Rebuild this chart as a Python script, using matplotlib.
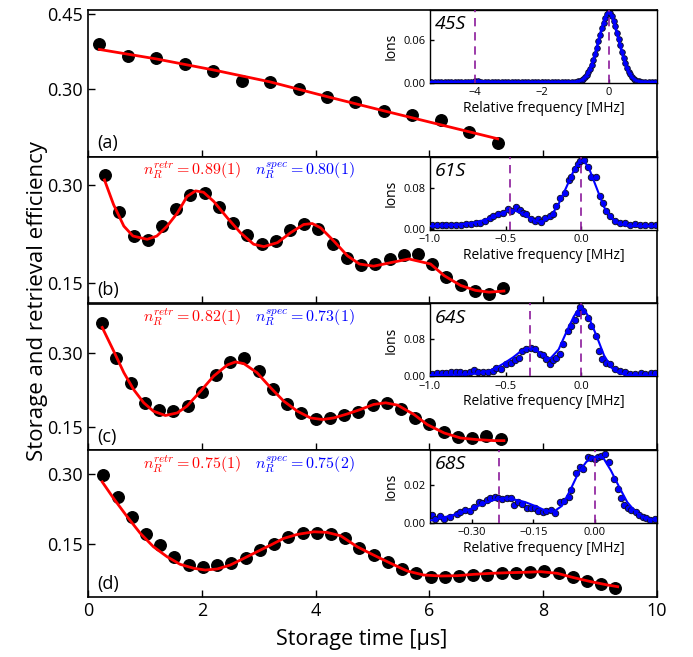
import numpy as np
import matplotlib
matplotlib.use("Agg")
import matplotlib.pyplot as plt

plt.rcParams['font.family'] = ['Open Sans', 'DejaVu Sans']
plt.rcParams['mathtext.fontset'] = 'cm'

# ---------------- main panels: data ----------------
a_t = [0.2 + 0.5 * i for i in range(15)]
a_eff = [0.389, 0.366, 0.3625, 0.349, 0.336, 0.3155, 0.314, 0.300, 0.283,
         0.274, 0.255, 0.248, 0.238, 0.213, 0.191]
a_fit_t = [0.2, 1.2, 2.2, 3.2, 4.2, 5.2, 6.2, 7.2]
a_fit = [0.379, 0.360, 0.338, 0.314, 0.2845, 0.256, 0.228, 0.200]

b_t = [0.3 + 0.25 * i for i in range(29)]
b_eff = [0.315, 0.259, 0.222, 0.216, 0.237, 0.264, 0.284, 0.287, 0.266, 0.242,
         0.223, 0.210, 0.214, 0.231, 0.241, 0.232, 0.210, 0.189, 0.178, 0.179,
         0.187, 0.193, 0.195, 0.179, 0.159, 0.147, 0.138, 0.134, 0.143]
b_fit_t = [0.29, 0.45, 0.63, 0.79, 1.04, 1.21, 1.39, 1.57, 1.74, 1.89, 2.03,
           2.21, 2.45, 2.68, 2.91, 3.09, 3.33, 3.56, 3.79, 3.94, 4.09, 4.32,
           4.56, 4.77, 5.02, 5.30, 5.64, 6.02, 6.26, 6.55, 6.81, 7.05, 7.31]
b_fit = [0.3075, 0.2698, 0.2371, 0.222, 0.217, 0.222, 0.2371, 0.2571, 0.2823,
         0.2909, 0.2888, 0.2748, 0.2496, 0.227, 0.2095, 0.2058, 0.2119, 0.227,
         0.2396, 0.2411, 0.2345, 0.2144, 0.1918, 0.1793, 0.176, 0.181, 0.187,
         0.1793, 0.1615, 0.1465, 0.139, 0.1363, 0.138]

c_t = [0.25 + 0.25 * i for i in range(29)]
c_eff = [0.359, 0.290, 0.238, 0.199, 0.185, 0.183, 0.193, 0.221, 0.255, 0.281,
         0.289, 0.263, 0.226, 0.197, 0.178, 0.167, 0.168, 0.175, 0.180, 0.195,
         0.199, 0.187, 0.168, 0.155, 0.140, 0.129, 0.128, 0.131, 0.125]
c_fit_t = [0.25, 0.45, 0.63, 0.80, 0.98, 1.15, 1.36, 1.57, 1.74, 1.98, 2.21,
           2.45, 2.59, 2.74, 2.97, 3.21, 3.44, 3.68, 3.91, 4.12, 4.32, 4.56,
           4.79, 5.02, 5.23, 5.44, 5.73, 5.96, 6.26, 6.55, 6.84, 7.14, 7.31]
c_fit = [0.3507, 0.3034, 0.2595, 0.2258, 0.1987, 0.1818, 0.1731, 0.1784,
         0.192, 0.2224, 0.2528, 0.2751, 0.2811, 0.2777, 0.2595, 0.2291, 0.2021,
         0.1818, 0.1682, 0.165, 0.1682, 0.1764, 0.1853, 0.1954, 0.1987, 0.194,
         0.1751, 0.1549, 0.1378, 0.1277, 0.1244, 0.1224, 0.1224]

d_t = [0.27 + 0.25 * i for i in range(37)]
d_eff = [0.2985, 0.2507, 0.2079, 0.1714, 0.1485, 0.1234, 0.1056, 0.1020,
         0.1056, 0.1106, 0.1213, 0.1378, 0.1506, 0.1663, 0.1736, 0.1749, 0.1714,
         0.1629, 0.1427, 0.1271, 0.1114, 0.0964, 0.0878, 0.0806, 0.0806, 0.0821,
         0.0842, 0.0842, 0.0878, 0.0878, 0.0900, 0.0928, 0.0878, 0.0806, 0.0714,
         0.0649, 0.0570]
d_fit_t = [0.25, 0.45, 0.69, 0.92, 1.15, 1.39, 1.62, 1.86, 2.06, 2.27, 2.50,
           2.74, 2.97, 3.21, 3.44, 3.68, 3.97, 4.20, 4.44, 4.73, 5.02, 5.32,
           5.61, 5.90, 6.20, 6.49, 6.78, 7.08, 7.37, 7.66, 7.96, 8.25, 8.54,
           8.84, 9.13, 9.31]
d_fit = [0.2841, 0.2486, 0.2091, 0.1736, 0.1449, 0.1234, 0.1071, 0.0986,
         0.0949, 0.0971, 0.1056, 0.12, 0.1341, 0.1485, 0.1628, 0.1714, 0.177,
         0.1757, 0.1684, 0.1449, 0.127, 0.1093, 0.0928, 0.0842, 0.0821, 0.0827,
         0.0857, 0.0878, 0.0891, 0.09, 0.0913, 0.0878, 0.0784, 0.0699, 0.0628,
         0.0591]

panel_letters = ['(a)', '(b)', '(c)', '(d)']
panel_ylims = [(0.164, 0.458), (0.119, 0.343), (0.103, 0.399), (0.037, 0.352)]
panel_yticks = [[0.30, 0.45], [0.15, 0.30], [0.15, 0.30], [0.15, 0.30]]
n_retr = [None, r'$n_R^{retr}=0.89(1)$', r'$n_R^{retr}=0.82(1)$', r'$n_R^{retr}=0.75(1)$']
n_spec = [None, r'$n_R^{spec}=0.80(1)$', r'$n_R^{spec}=0.73(1)$', r'$n_R^{spec}=0.75(2)$']

# ---------------- inset spectra ----------------
ia_f = ([-5.3 + 0.1 * i for i in range(44)] +
        [-0.95 + 0.05 * i for i in range(39)] +
        [1.0 + 0.1 * i for i in range(5)])
ia_ions = ([0.0010, 0.0012, 0.0009, 0.0011, 0.0010, 0.0012, 0.0013, 0.0011,
            0.0012, 0.0014, 0.0016, 0.0018, 0.0020, 0.0022, 0.0021, 0.0019,
            0.0016, 0.0014, 0.0013, 0.0012, 0.0011, 0.0012, 0.0010, 0.0011,
            0.0012, 0.0010, 0.0009, 0.0011, 0.0010, 0.0012, 0.0011, 0.0010,
            0.0011, 0.0012, 0.0010, 0.0011, 0.0012, 0.0011, 0.0012, 0.0013,
            0.0012, 0.0014, 0.0013, 0.0015] +
           [0.0020, 0.0022, 0.0030, 0.0040, 0.0060, 0.0080, 0.0110, 0.0150,
            0.0200, 0.0260, 0.0330, 0.0410, 0.0500, 0.0590, 0.0680, 0.0770,
            0.0850, 0.0920, 0.0970, 0.1000, 0.0990, 0.0950, 0.0880, 0.0800,
            0.0710, 0.0620, 0.0530, 0.0440, 0.0350, 0.0280, 0.0210, 0.0160,
            0.0120, 0.0080, 0.0060, 0.0040, 0.0030, 0.0022, 0.0020] +
           [0.0015, 0.0013, 0.0012, 0.0011, 0.0010])

ib_f = [-0.990, -0.957, -0.924, -0.891, -0.858, -0.825, -0.792, -0.759, -0.726,
        -0.693, -0.671, -0.638, -0.605, -0.583, -0.550, -0.517, -0.484, -0.466,
        -0.435, -0.407, -0.385, -0.363, -0.330, -0.308, -0.286, -0.264, -0.242,
        -0.209, -0.187, -0.165, -0.143, -0.110, -0.084, -0.066, -0.044, -0.022,
        -0.011, 0.017, 0.044, 0.066, 0.099, 0.121, 0.143, 0.165, 0.187, 0.220,
        0.253, 0.286, 0.319, 0.352, 0.385, 0.418, 0.462, 0.495]
ib_ions = [0.0064, 0.0070, 0.0070, 0.0077, 0.0070, 0.0077, 0.0077, 0.0090,
           0.0096, 0.0102, 0.0115, 0.0147, 0.0211, 0.0256, 0.0276, 0.0307,
           0.0384, 0.0339, 0.0416, 0.0371, 0.0307, 0.0276, 0.0192, 0.0147,
           0.0179, 0.0128, 0.0211, 0.0256, 0.0276, 0.0435, 0.0595, 0.0691,
           0.0946, 0.1010, 0.1170, 0.1266, 0.1317, 0.1330, 0.1202, 0.1010,
           0.1010, 0.0627, 0.0499, 0.0339, 0.0243, 0.0147, 0.0102, 0.0115,
           0.0064, 0.0083, 0.0064, 0.0070, 0.0064, 0.0070]
ib_fit_f = [-1.0, -0.9, -0.8, -0.7, -0.65, -0.6, -0.55, -0.5, -0.45, -0.4,
            -0.35, -0.3, -0.27, -0.24, -0.2, -0.15, -0.1, -0.05, -0.02, 0.0,
            0.02, 0.05, 0.1, 0.15, 0.2, 0.25, 0.3, 0.4, 0.5]
ib_fit = [0.005, 0.006, 0.008, 0.012, 0.016, 0.021, 0.027, 0.033, 0.036, 0.031,
          0.022, 0.015, 0.013, 0.016, 0.025, 0.048, 0.080, 0.113, 0.128, 0.132,
          0.131, 0.118, 0.080, 0.042, 0.020, 0.010, 0.006, 0.005, 0.005]

ic_f = [-0.990, -0.957, -0.924, -0.891, -0.858, -0.825, -0.803, -0.770, -0.737,
        -0.708, -0.682, -0.649, -0.616, -0.583, -0.561, -0.528, -0.495, -0.462,
        -0.440, -0.414, -0.392, -0.363, -0.334, -0.308, -0.275, -0.253, -0.231,
        -0.209, -0.187, -0.165, -0.143, -0.121, -0.088, -0.066, -0.044, -0.022,
        -0.011, 0.011, 0.044, 0.066, 0.099, 0.114, 0.136, 0.165, 0.187, 0.220,
        0.253, 0.286, 0.319, 0.352, 0.391, 0.418, 0.462, 0.488]
ic_ions = [0.0051, 0.0058, 0.0073, 0.0073, 0.0087, 0.0094, 0.0087, 0.0073,
           0.0094, 0.0131, 0.0087, 0.0094, 0.0087, 0.0109, 0.0182, 0.0145,
           0.0254, 0.0291, 0.0342, 0.0385, 0.0545, 0.0596, 0.0618, 0.0581,
           0.0472, 0.0458, 0.0363, 0.0254, 0.0342, 0.0400, 0.0487, 0.0690,
           0.0981, 0.1090, 0.1235, 0.1381, 0.1504, 0.1417, 0.1272, 0.1090,
           0.0872, 0.0545, 0.0363, 0.0291, 0.0254, 0.0145, 0.0109, 0.0094,
           0.0051, 0.0051, 0.0073, 0.0051, 0.0073, 0.0058]
ic_fit_f = [-1.0, -0.8, -0.7, -0.6, -0.55, -0.5, -0.45, -0.4, -0.36, -0.34,
            -0.3, -0.25, -0.22, -0.2, -0.15, -0.1, -0.05, -0.02, 0.0, 0.02,
            0.05, 0.1, 0.15, 0.2, 0.25, 0.3, 0.4, 0.5]
ic_fit = [0.002, 0.003, 0.005, 0.012, 0.020, 0.030, 0.041, 0.054, 0.060, 0.061,
          0.057, 0.045, 0.038, 0.040, 0.058, 0.095, 0.130, 0.145, 0.148, 0.145,
          0.128, 0.088, 0.045, 0.018, 0.007, 0.002, 0.001, 0.001]

id_f = [-0.3977, -0.3896, -0.3774, -0.3693, -0.3531, -0.3369, -0.3287, -0.3166,
        -0.3044, -0.2963, -0.2841, -0.2760, -0.2638, -0.2557, -0.2435, -0.2354,
        -0.2256, -0.2151, -0.2045, -0.1964, -0.1867, -0.1769, -0.1664, -0.1558,
        -0.1461, -0.1380, -0.1258, -0.1177, -0.1071, -0.0958, -0.0852, -0.0747,
        -0.0633, -0.0568, -0.0446, -0.0365, -0.0284, -0.0162, -0.0081, 0.0,
        0.0081, 0.0162, 0.0260, 0.0365, 0.0471, 0.0568, 0.0649, 0.0730, 0.0828,
        0.0893, 0.1015, 0.1096, 0.1177, 0.1258, 0.1364, 0.1477]
id_ions = [0.00419, 0.0021, 0.00366, 0.00193, 0.00332, 0.00453, 0.00592,
           0.00679, 0.00627, 0.00853, 0.01113, 0.01026, 0.0120, 0.01287,
           0.01374, 0.01287, 0.01252, 0.01287, 0.01322, 0.0094, 0.01078,
           0.00974, 0.00766, 0.00801, 0.00801, 0.00627, 0.00592, 0.00627,
           0.00661, 0.00505, 0.01113, 0.01148, 0.01374, 0.01721, 0.0259,
           0.02937, 0.02815, 0.03458, 0.03371, 0.03336, 0.03458, 0.0351, 0.0358,
           0.0320, 0.02294, 0.01773, 0.01287, 0.0094, 0.00766, 0.00679, 0.00592,
           0.00419, 0.00332, 0.00245, 0.00158, 0.00193]
id_fit_f = [-0.40, -0.35, -0.30, -0.27, -0.24, -0.22, -0.20, -0.17, -0.14,
            -0.12, -0.10, -0.08, -0.06, -0.04, -0.02, 0.0, 0.02, 0.04, 0.06,
            0.08, 0.10, 0.12, 0.15]
id_fit = [0.0015, 0.004, 0.0075, 0.0105, 0.0125, 0.013, 0.0125, 0.011, 0.0085,
          0.0065, 0.006, 0.009, 0.017, 0.026, 0.032, 0.0345, 0.0345, 0.0275,
          0.019, 0.011, 0.006, 0.003, 0.0015]

insets = [
    dict(f=ia_f, y=ia_ions, ff=ia_f, fy=ia_ions, xlim=(-5.34, 1.45), ylim=(0, 0.103),
         xt=[-4, -2, 0], xtl=['\u22124', '\u22122', '0'], yt=[0.0, 0.06],
         ytl=['0.00', '0.06'], dash=[-4.0, 0.0], state='45S', ms=4.0, lw=2.0),
    dict(f=ib_f, y=ib_ions, ff=ib_fit_f, fy=ib_fit, xlim=(-1.0, 0.5), ylim=(-0.002, 0.140),
         xt=[-1.0, -0.5, 0.0], xtl=['\u22121.0', '\u22120.5', '0.0'], yt=[0.0, 0.08],
         ytl=['0.00', '0.08'], dash=[-0.47, 0.0], state='61S', ms=4.6, lw=1.5),
    dict(f=ic_f, y=ic_ions, ff=ic_fit_f, fy=ic_fit, xlim=(-1.0, 0.5), ylim=(-0.001, 0.1585),
         xt=[-1.0, -0.5, 0.0], xtl=['\u22121.0', '\u22120.5', '0.0'], yt=[0.0, 0.08],
         ytl=['0.00', '0.08'], dash=[-0.34, 0.0], state='64S', ms=4.6, lw=1.5),
    dict(f=id_f, y=id_ions, ff=id_fit_f, fy=id_fit, xlim=(-0.403, 0.153), ylim=(0, 0.038),
         xt=[-0.30, -0.15, 0.0], xtl=['\u22120.30', '\u22120.15', '0.00'], yt=[0.0, 0.02],
         ytl=['0.00', '0.02'], dash=[-0.235, 0.0], state='68S', ms=4.6, lw=1.5),
]

main_t = [a_t, b_t, c_t, d_t]
main_y = [a_eff, b_eff, c_eff, d_eff]
main_ft = [a_fit_t, b_fit_t, c_fit_t, d_fit_t]
main_fy = [a_fit, b_fit, c_fit, d_fit]

W, H = 693, 657
fig = plt.figure(figsize=(W / 100, H / 100), dpi=100)
left_px, right_px, top_px, bot_px = 88, 657, 10, 597
ph = (bot_px - top_px) / 4.0

for i in range(4):
    y_top = top_px + i * ph
    ax = fig.add_axes([left_px / W, 1 - (y_top + ph) / H,
                       (right_px - left_px) / W, ph / H])
    ax.plot(main_ft[i], main_fy[i], color='red', lw=2.0, zorder=3)
    ax.plot(main_t[i], main_y[i], 'o', color='black', ms=8.3, zorder=2)
    ax.set_xlim(0, 10)
    ax.set_ylim(*panel_ylims[i])
    ax.set_yticks(panel_yticks[i])
    ax.set_yticklabels(['%.2f' % v for v in panel_yticks[i]])
    ax.set_xticks([0, 2, 4, 6, 8, 10])
    ax.tick_params(direction='in', length=5, width=1, labelsize=13)
    if i < 3:
        ax.tick_params(labelbottom=False)
    for sp in ax.spines.values():
        sp.set_linewidth(1.2)
    ax.text(0.016, 0.03, panel_letters[i], transform=ax.transAxes,
            fontsize=13, ha='left', va='bottom')
    if n_retr[i]:
        ax.text(0.183, 0.905, n_retr[i], transform=ax.transAxes, color='red',
                fontsize=11.5, ha='center', va='center')
        ax.text(0.381, 0.905, n_spec[i], transform=ax.transAxes, color='blue',
                fontsize=11.5, ha='center', va='center')

    ins = insets[i]
    ia = ax.inset_axes([(430 - left_px) / (right_px - left_px), 0.503,
                        1 - (430 - left_px) / (right_px - left_px), 0.497])
    ia.plot(ins['f'], ins['y'], 'o', ms=ins['ms'], mfc='blue', mec='#10102a',
            mew=0.7, zorder=2)
    ia.plot(ins['ff'], ins['fy'], color='blue', lw=ins['lw'], zorder=3)
    for xd in ins['dash']:
        ia.axvline(xd, color='#8B1A9B', lw=1.2, dashes=(5, 3.5), zorder=4)
    ia.set_xlim(*ins['xlim'])
    ia.set_ylim(*ins['ylim'])
    ia.set_xticks(ins['xt'])
    ia.set_xticklabels(ins['xtl'])
    ia.set_yticks(ins['yt'])
    ia.set_yticklabels(ins['ytl'])
    ia.tick_params(direction='in', length=3, width=1, labelsize=8, pad=3)
    for sp in ia.spines.values():
        sp.set_linewidth(1.0)
    ia.set_xlabel('Relative frequency [MHz]', fontsize=10, labelpad=2)
    ia.set_ylabel('Ions', fontsize=10, labelpad=4)
    ia.text(0.02, 0.93, ins['state'], transform=ia.transAxes, fontsize=14,
            style='italic', ha='left', va='top')

fig.text(362 / W, 1 - 640 / H, 'Storage time [\u00b5s]', fontsize=15.5,
         ha='center', va='center')
fig.text(38 / W, 1 - 301 / H, 'Storage and retrieval efficiency', fontsize=16,
         rotation=90, ha='center', va='center')

fig.savefig('out.png', dpi=100)
